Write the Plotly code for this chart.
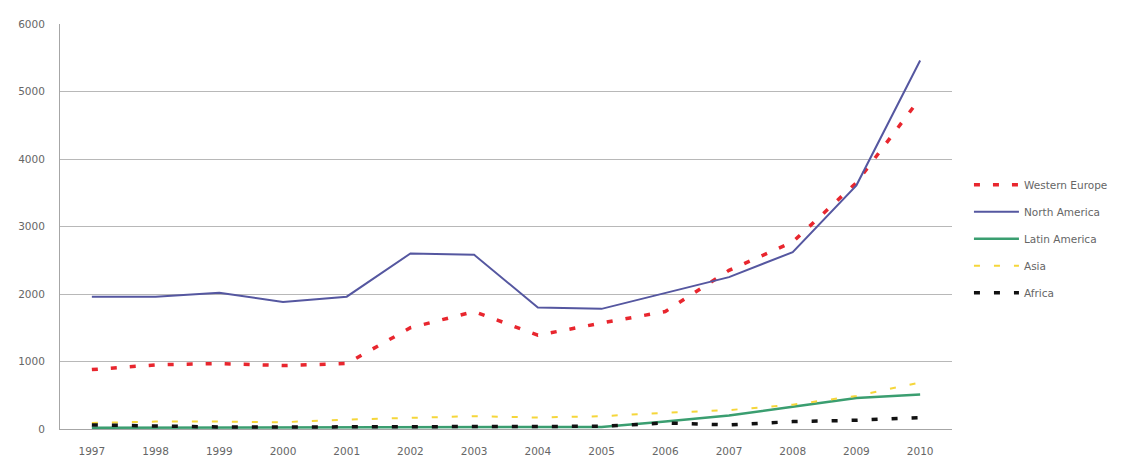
import plotly.graph_objects as go

years = ["1997", "1998", "1999", "2000", "2001", "2002", "2003",
         "2004", "2005", "2006", "2007", "2008", "2009", "2010"]

western_europe = [880, 950, 970, 940, 970, 1500, 1740, 1390, 1570, 1740, 2350, 2770, 3650, 4900]
north_america = [1960, 1960, 2020, 1880, 1960, 2600, 2580, 1800, 1780, 2020, 2250, 2620, 3610, 5460]
latin_america = [20, 20, 20, 20, 20, 30, 30, 30, 30, 110, 200, 330, 460, 510]
asia = [90, 110, 110, 100, 140, 170, 190, 170, 190, 240, 280, 360, 490, 690]
africa = [60, 40, 30, 30, 30, 40, 40, 40, 40, 90, 60, 110, 130, 170]

y_ticks = [0, 1000, 2000, 3000, 4000, 5000, 6000]

series = [
    ("Western Europe", western_europe, dict(color="#e8262e", width=3.5, dash="6px,13px")),
    ("North America", north_america, dict(color="#5557a0", width=2)),
    ("Latin America", latin_america, dict(color="#3a9e70", width=2.5)),
    ("Asia", asia, dict(color="#f5d63a", width=2, dash="6px,14px")),
    ("Africa", africa, dict(color="#111111", width=3.5, dash="6px,14px")),
]

fig = go.Figure()
for i, (name, vals, line) in enumerate(series):
    fig.add_trace(go.Scatter(x=years, y=vals, name=name, mode="lines",
                             line=line, legendgroup=str(i)))

font = dict(family="DejaVu Sans, sans-serif", size=10.5, color="#666666")

fig.update_layout(
    width=1125, height=459,
    margin=dict(l=50, r=181, t=10, b=37),
    paper_bgcolor="white", plot_bgcolor="white",
    font=font,
    showlegend=True,
    legend=dict(x=1.019, xanchor="left", y=0.47, yanchor="middle",
                font=dict(family="DejaVu Sans, sans-serif", size=10.5, color="#666666"),
                itemwidth=45, tracegroupgap=8, bgcolor="rgba(0,0,0,0)"),
    xaxis=dict(type="category", range=[-0.5, 13.5], showgrid=False,
               showline=True, linecolor="#a6a6a6", linewidth=1,
               ticks="", tickfont=font, zeroline=False, ticklabelstandoff=12),
    yaxis=dict(range=[0, 6000], tickvals=y_ticks, showgrid=True,
               gridcolor="#b8b8b8", gridwidth=1,
               showline=True, linecolor="#a6a6a6", linewidth=1,
               ticks="", tickfont=font, zeroline=False, ticklabelstandoff=12),
)

fig.write_html("out.html")
